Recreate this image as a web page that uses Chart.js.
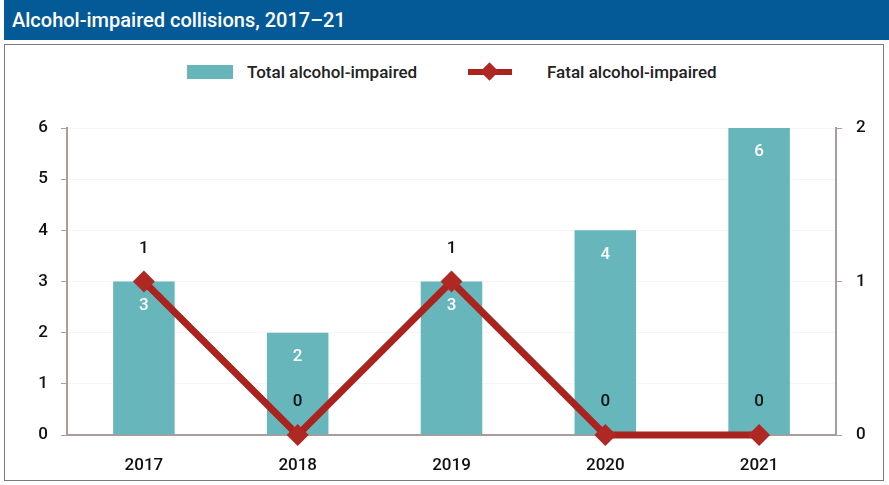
<!DOCTYPE html>
<html>
<head>
<meta charset="utf-8">
<script src="https://cdn.jsdelivr.net/npm/chart.js@4"></script>
<style>
  body { margin: 0; background: #fff; font-family: Roboto, "Open Sans", sans-serif; }
  #header {
    position: absolute; left: 4px; top: 0; width: 885px; height: 40px;
    background: #045a96; color: #fff; font-size: 20px; line-height: 40px;
    padding-left: 8px; box-sizing: border-box; font-weight: 500;
  }
  #box {
    position: absolute; left: 4px; top: 44px; width: 880px; height: 437px;
    border: 1px solid #7a7a7a; box-sizing: border-box;
  }
  #legend {
    position: absolute; top: 62px; left: 0; width: 889px; height: 20px;
    font-size: 17px; color: #222; font-weight: 500;
  }
  .lg { position: absolute; top: 0; line-height: 20px; }
  .swatch-bar { position: absolute; top: 3px; width: 46px; height: 14px; background: #66b6bc; }
  .swatch-line { position: absolute; top: 7px; width: 44px; height: 6px; background: #a9231f; }
  .swatch-dot { position: absolute; top: 3px; width: 13px; height: 13px; background: #b02824; transform: rotate(45deg); }
  #wrap { position: absolute; left: 5px; top: 45px; width: 878px; height: 435px; }
</style>
</head>
<body>
<div id="header">Alcohol-impaired collisions, 2017–21</div>
<div id="box"></div>
<div id="legend">
  <div class="swatch-bar" style="left:187px"></div>
  <div class="lg" style="left:247px">Total alcohol-impaired</div>
  <div class="swatch-line" style="left:468px"></div>
  <div class="swatch-dot" style="left:483px"></div>
  <div class="lg" style="left:547px">Fatal alcohol-impaired</div>
</div>
<div id="wrap"><canvas id="chart"></canvas></div>
<script>
const years = ["2017", "2018", "2019", "2020", "2021"];
const totalImpaired = [3, 2, 3, 4, 6];
const fatalImpaired = [1, 0, 1, 0, 0];
const leftTicks = [0, 1, 2, 3, 4, 5, 6];
const rightTicks = [0, 1, 2];

const TEAL = "#66b6bc";
const RED = "#a9231f";
const AXIS = "#a99c9a";
const FONT = { size: 17, family: "Roboto", weight: 500 };

// value labels: white inside bars, black above the diamonds
const valueLabels = {
    id: "valueLabels",
    afterDatasetsDraw(chart) {
        const ctx = chart.ctx;
        ctx.save();
        ctx.font = "500 17px Roboto, sans-serif";
        ctx.textAlign = "center";
        ctx.textBaseline = "middle";
        chart.getDatasetMeta(1).data.forEach((bar, i) => {
            ctx.fillStyle = "#ffffff";
            ctx.fillText(String(totalImpaired[i]), bar.x, bar.y + 24);
        });
        chart.getDatasetMeta(0).data.forEach((pt, i) => {
            ctx.fillStyle = "#111111";
            ctx.fillText(String(fatalImpaired[i]), pt.x, pt.y - 33);
        });
        ctx.restore();
    },
};

const ctx = document.getElementById("chart").getContext("2d");

let collisionsChart = new Chart(ctx, {
    data: {
        labels: years,
        datasets: [
            {
                type: "line",
                label: "Fatal alcohol-impaired",
                data: fatalImpaired,
                yAxisID: "y1",
                borderColor: RED,
                backgroundColor: "#b02824",
                borderWidth: 7,
                pointStyle: "rectRot",
                pointRadius: 11,
                pointBorderWidth: 0,
                order: 0,
                tension: 0,
                clip: false,
            },
            {
                type: "bar",
                label: "Total alcohol-impaired",
                data: totalImpaired,
                yAxisID: "y",
                backgroundColor: TEAL,
                categoryPercentage: 1,
                barPercentage: 0.4,
                order: 1,
            },
        ],
    },
    options: {
        responsive: true,
        maintainAspectRatio: false,
        animation: false,
        layout: { padding: { top: 83, left: 0, right: 0, bottom: 0 } },
        plugins: {
            legend: { display: false },
            tooltip: { enabled: false },
        },
        scales: {
            x: {
                offset: true,
                grid: { display: false, drawTicks: false },
                border: { color: AXIS, width: 2 },
                ticks: { color: "#111", font: FONT, padding: 21 },
                afterFit: (s) => { s.height = 45; },
            },
            y: {
                position: "left",
                min: 0,
                max: 6,
                afterBuildTicks: (s) => { s.ticks = leftTicks.map((v) => ({ value: v })); },
                grid: { color: "#f8f4f4", tickColor: AXIS, tickLength: 6, lineWidth: 1 },
                border: { color: AXIS, width: 2 },
                ticks: { color: "#111", font: FONT, padding: 13 },
                afterFit: (s) => { s.width = 62; },
            },
            y1: {
                position: "right",
                min: 0,
                max: 2,
                afterBuildTicks: (s) => { s.ticks = rightTicks.map((v) => ({ value: v })); },
                grid: { drawOnChartArea: false, tickColor: AXIS, tickLength: 6 },
                border: { color: AXIS, width: 2 },
                ticks: { color: "#111", font: FONT, padding: 14 },
                afterFit: (s) => { s.width = 47; },
            },
        },
    },
    plugins: [valueLabels],
});
</script>
</body>
</html>
